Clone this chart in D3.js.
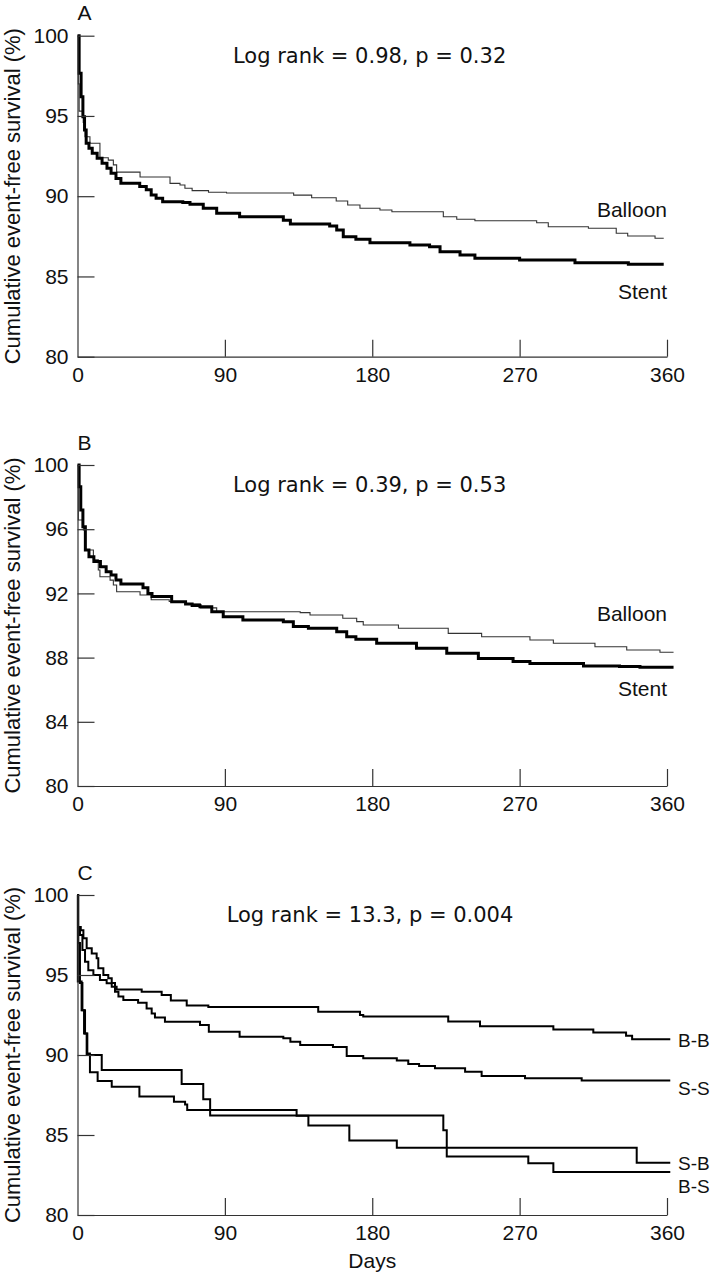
<!DOCTYPE html>
<html>
<head>
<meta charset="utf-8">
<script src="https://cdn.jsdelivr.net/npm/d3@7"></script>
<style>
  html, body { margin: 0; padding: 0; background: #fff; }
  svg { display: block; }
  text { fill: #111; }
</style>
</head>
<body>
<svg id="chart" width="712" height="1280"></svg>
<script>
// ---------- DATA ----------
const xTicks = [0, 90, 180, 270, 360];
const yTicksA = [80, 85, 90, 95, 100];
const yTicksB = [80, 84, 88, 92, 96, 100];
const yTicksC = [80, 85, 90, 95, 100];

const panelLetters = ["A", "B", "C"];
const logRankTexts = ["Log rank = 0.98, p = 0.32", "Log rank = 0.39, p = 0.53", "Log rank = 13.3, p = 0.004"];
const yTitle = "Cumulative event-free survival (%)";
const xTitle = "Days";

// Panel A  [day, survival %]
const aBalloon = [[0,100],[0.5,97],[1,95.3],[3.5,94.6],[4.6,93.7],[7.6,93.3],[13.7,92.4],[18.8,92.25],[21.9,91.95],[23.9,91.5],[38.2,91.2],[56.5,90.8],[62.6,90.7],[65.6,90.5],[70,90.35],[80,90.25],[91,90.2],[132,90.07],[143,89.9],[158,89.7],[165,89.45],[172.5,89.25],[184.7,89.14],[192,89.03],[223.4,88.72],[231.6,88.56],[242.7,88.47],[280.4,88.35],[287.5,88.1],[312,88.0],[329,87.69],[336,87.52],[352.7,87.38],[358,87.38]];
const aStent = [[0,100],[1,97.66],[2.2,96.2],[3.3,94.95],[4.3,94.12],[5.3,93.3],[7,92.98],[9,92.67],[12,92.36],[15,92.05],[18,91.74],[20.5,91.43],[23.5,91.1],[26.5,90.8],[38,90.6],[42,90.4],[45,90.07],[48,89.87],[52,89.66],[64.3,89.6],[68.7,89.5],[76.8,89.25],[85,88.93],[99,88.72],[125.7,88.5],[130,88.27],[154,88.14],[158.3,87.9],[162.3,87.48],[170,87.32],[178.6,87.1],[203,86.96],[215,86.85],[221.4,86.54],[233.6,86.34],[242.7,86.13],[270,86.03],[303.8,85.86],[336.4,85.76],[358,85.76]];

// Panel B
const bBalloon = [[0,100],[0.5,96.57],[3.6,95.95],[4.6,94.7],[9.7,94.1],[12.7,93.46],[13.7,93.04],[19.9,92.83],[21.9,92.52],[23.9,92.1],[38.2,91.9],[45,91.6],[56,91.5],[66,91.35],[75,91.1],[85,90.86],[136,90.8],[142,90.65],[162,90.45],[170.5,90.24],[174.5,90.03],[196,89.83],[226.4,89.51],[246.8,89.3],[276.3,89.1],[290.6,88.89],[316,88.68],[335.4,88.47],[355.7,88.33],[364,88.33]];
const bStent = [[0,100],[1,98.65],[2,97.2],[3.3,96.16],[4.8,94.7],[7,94.29],[10,93.98],[14,93.66],[17.5,93.35],[20.5,93.15],[23.5,92.83],[26.5,92.59],[40,92.35],[43,92.0],[45.5,91.8],[57.5,91.48],[66,91.34],[70,91.25],[74.8,91.17],[82,90.86],[89,90.55],[101,90.34],[125.7,90.24],[131.8,89.93],[141,89.83],[158.3,89.61],[164.4,89.3],[170,89.15],[182.7,88.89],[207,88.58],[225.5,88.27],[244.8,87.95],[266,87.75],[276.3,87.64],[309,87.48],[331,87.44],[343.5,87.4],[364,87.4]];

// Panel C
const cBB = [[0,100],[0.3,98.0],[2,97.8],[3.6,97.3],[5.6,96.67],[8.7,96.35],[11.7,96.04],[12.7,95.42],[15.8,95.0],[18.8,94.8],[20.9,94.5],[22.9,94.27],[23.9,94.1],[39.2,93.96],[51.4,93.75],[57,93.4],[66.7,93.1],[79.9,93.0],[147,92.7],[172.5,92.5],[174.5,92.4],[226.4,92.1],[245.8,91.8],[290.6,91.6],[315,91.4],[335,91.2],[338.7,90.98],[362,90.98]];
const cSS = [[0,100],[0.3,98.0],[1.5,97.5],[3,96.56],[4.6,95.83],[6.6,95.3],[9.7,95.0],[13.7,94.69],[17.8,94.48],[20.9,94.27],[22.9,93.96],[25,93.65],[28,93.44],[37,93.27],[42.2,92.9],[45.3,92.6],[47.3,92.35],[53.4,92.08],[74.8,91.88],[80.2,91.46],[99,91.14],[125.7,91.04],[130,90.83],[136,90.62],[156,90.5],[164.4,89.94],[174.5,89.8],[195,89.65],[202,89.44],[208.6,89.31],[218.3,89.17],[236.7,88.96],[246.8,88.69],[273.3,88.54],[307.9,88.4],[362,88.4]];
const cSB = [[0,100],[0.5,97],[1.5,94.5],[3,92.8],[4.6,91.35],[6,90.1],[7.6,88.92],[12.3,88.38],[20.9,88.02],[37.8,87.4],[58.9,87.08],[65.7,86.9],[67,86.56],[133.8,86.2],[141,85.6],[166,84.65],[195,84.2],[341.5,83.27],[362,83.27]];
const cBS = [[0,100],[0.2,94.6],[2.5,92.8],[4,91.35],[5.6,90.0],[14.8,89.06],[63.6,88.19],[76.8,87.23],[81,86.22],[223.4,85.3],[225.5,83.65],[275.3,83.23],[290.6,82.68],[362,82.68]];

const seriesNamesAB = ["Balloon", "Stent"];
const seriesNamesC = ["B-B", "S-S", "S-B", "B-S"];

// ---------- DRAW ----------
const svg = d3.select("#chart");
const FONT = "'Liberation Sans', Arial, sans-serif";

const panels = [
  { top: 35.7, bottom: 356.7, yTicks: yTicksA,
    series: [{data: aBalloon, w: 1.1, color: "#333"}, {data: aStent, w: 3, color: "#000"}],
    labels: [{t: seriesNamesAB[0], v: 88.7, anchor: "end"}, {t: seriesNamesAB[1], v: 83.6, anchor: "end"}],
    logX: 233, logDy: 27.5 },
  { top: 465, bottom: 786, yTicks: yTicksB,
    series: [{data: bBalloon, w: 1.1, color: "#333"}, {data: bStent, w: 3, color: "#000"}],
    labels: [{t: seriesNamesAB[0], v: 90.3, anchor: "end"}, {t: seriesNamesAB[1], v: 85.6, anchor: "end"}],
    logX: 233, logDy: 27 },
  { top: 895, bottom: 1215, yTicks: yTicksC,
    series: [{data: cBB, w: 2, color: "#000"}, {data: cSS, w: 2, color: "#000"}, {data: cSB, w: 2, color: "#000"}, {data: cBS, w: 2, color: "#000"}],
    labels: [{t: seriesNamesC[0], v: 90.5}, {t: seriesNamesC[1], v: 87.5}, {t: seriesNamesC[2], v: 82.8}, {t: seriesNamesC[3], v: 81.4}],
    logX: 226.7, logDy: 26.7 }
];

panels.forEach((p, i) => {
  const x = d3.scaleLinear().domain([0, 360]).range([77.5, 667]);
  const y = d3.scaleLinear().domain([80, 100]).range([p.bottom, p.top]);
  const g = svg.append("g");

  // curves
  const line = d3.line().x(d => x(d[0])).y(d => y(d[1])).curve(d3.curveStepAfter);
  p.series.forEach(s => {
    g.append("path").datum(s.data).attr("d", line)
      .attr("fill", "none").attr("stroke", s.color).attr("stroke-width", s.w)
      .attr("stroke-linejoin", "miter").attr("stroke-linecap", "butt");
  });

  // y axis
  const yAxis = d3.axisLeft(y).tickValues(p.yTicks).tickSize(-17).tickSizeOuter(0).tickPadding(9)
    .tickFormat(d3.format("d"));
  const ya = g.append("g").attr("transform", `translate(${x(0)},0)`).call(yAxis);
  // x axis
  const xAxis = d3.axisBottom(x).tickValues(xTicks).tickSize(-17).tickSizeOuter(0).tickPadding(10)
    .tickFormat(d3.format("d"));
  const xa = g.append("g").attr("transform", `translate(0,${p.bottom})`).call(xAxis);

  [ya, xa].forEach(a => {
    a.select(".domain").attr("stroke", "#333").attr("stroke-width", 1.2);
    a.selectAll(".tick line").attr("stroke", "#333").attr("stroke-width", 1.2);
    a.selectAll(".tick text").attr("font-family", FONT).attr("font-size", 21).attr("fill", "#111");
  });
  xa.selectAll(".tick").filter(d => d === 0).select("line").remove();

  // panel letter
  g.append("text").attr("x", 77.5).attr("y", p.top - 15.5)
    .attr("font-family", FONT).attr("font-size", 21).text(panelLetters[i]);

  // log rank
  g.append("text").attr("x", p.logX).attr("y", p.top + p.logDy)
    .attr("font-family", "'DejaVu Sans', sans-serif").attr("font-size", 21).text(logRankTexts[i]);

  // y title
  g.append("text")
    .attr("transform", `translate(20,${(p.top + p.bottom) / 2}) rotate(-90)`)
    .attr("text-anchor", "middle")
    .attr("font-family", FONT).attr("font-size", 22).text(yTitle);

  // series labels
  p.labels.forEach(l => {
    const t = g.append("text").attr("font-family", FONT).text(l.t);
    if (l.anchor === "end") {
      t.attr("x", x(360)).attr("y", y(l.v)).attr("text-anchor", "end").attr("font-size", 21);
    } else {
      t.attr("x", x(360) + 11).attr("y", y(l.v)).attr("font-size", 19);
    }
  });

  if (i === 2) {
    g.append("text").attr("x", x(180)).attr("y", p.bottom + 53)
      .attr("text-anchor", "middle").attr("font-family", FONT).attr("font-size", 21).text(xTitle);
  }
});
</script>
</body>
</html>
